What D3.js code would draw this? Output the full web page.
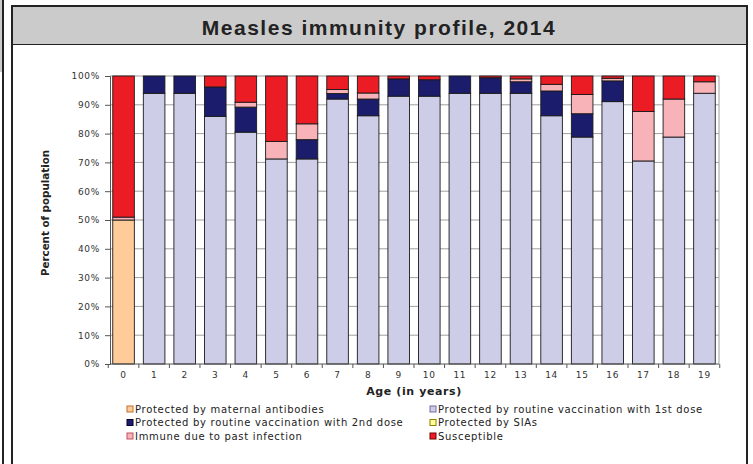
<!DOCTYPE html>
<html lang="en">
<head>
  <meta charset="UTF-8">
  <title>Measles immunity profile, 2014</title>
  <script src="https://d3js.org/d3.v7.min.js"></script>
  <style>
    body { margin: 0; background: #ffffff; overflow: hidden; }
    svg { display: block; }
    .tick-label { font: 9px "DejaVu Sans", Verdana, sans-serif; fill: #333; letter-spacing: 0.7px; }
    .legend text { font: 10px "DejaVu Sans", Verdana, sans-serif; fill: #222; letter-spacing: 0.7px; }
  </style>
</head>
<body>
<svg id="chart" width="753" height="464"></svg>
<script>
// ages on the x axis
const ages = ["0","1","2","3","4","5","6","7","8","9","10","11","12","13","14","15","16","17","18","19"];

// percent of population per age, one array per group (bottom to top)
const maternal  = [50, 0, 0, 0, 0, 0, 0, 0, 0, 0, 0, 0, 0, 0, 0, 0, 0, 0, 0, 0];
const dose1     = [0, 94, 94, 86, 80.5, 71.2, 71.2, 92, 86.2, 93, 93, 94, 94, 94, 86.2, 78.8, 91.1, 70.5, 78.8, 94];
const dose2     = [0, 6, 6, 10.2, 8.7, 0, 6.7, 1.9, 5.8, 6, 5.7, 6, 5.4, 4, 8.6, 8.1, 7.2, 0, 0, 0];
const sias      = [0, 0, 0, 0, 0, 0, 0, 0, 0, 0, 0, 0, 0, 0, 0, 0, 0, 0, 0, 0];
const infection = [1, 0, 0, 0, 1.7, 6.1, 5.5, 1.4, 2.1, 0, 0, 0, 0, 1, 2.3, 6.7, 0.9, 17.2, 13.2, 4];
const susceptible = [49, 0, 0, 3.8, 9.1, 22.7, 16.6, 4.7, 5.9, 1, 1.3, 0, 0.6, 1, 2.9, 6.4, 0.8, 12.3, 8, 2];

const yTicks = [0, 10, 20, 30, 40, 50, 60, 70, 80, 90, 100];

const seriesNames = [
  "Protected by maternal antibodies",
  "Protected by routine vaccination with 1st dose",
  "Protected by routine vaccination with 2nd dose",
  "Protected by SIAs",
  "Immune due to past infection",
  "Susceptible"
];
const keys = ["maternal", "dose1", "dose2", "sias", "infection", "susceptible"];
const colors = ["#ffcc99", "#cdcde8", "#1c1c6c", "#ffff99", "#f7b3b8", "#ec1c24"];
const legendStroke = ["#c07030", "#7070a0", "#000033", "#908000", "#c05060", "#700000"];

const rows = ages.map((a, i) => ({
  age: a,
  maternal: maternal[i], dose1: dose1[i], dose2: dose2[i],
  sias: sias[i], infection: infection[i], susceptible: susceptible[i]
}));

const svg = d3.select("#chart");

// ---- frame ----
// partial neighbouring panel on the left
svg.append("rect").attr("x", 0).attr("y", 0).attr("width", 2.5).attr("height", 72).attr("fill", "#cbcbcb");
svg.append("line").attr("x1", 3).attr("x2", 3).attr("y1", 0).attr("y2", 464)
   .attr("stroke", "#222").attr("stroke-width", 2);

// main panel
svg.append("rect").attr("x", 12).attr("y", 6).attr("width", 735).attr("height", 38.5).attr("fill", "#cbcbcb");
svg.append("path").attr("d", "M12,464 V6 H747 V464").attr("fill", "none")
   .attr("stroke", "#222").attr("stroke-width", 2);
svg.append("line").attr("x1", 12).attr("x2", 747).attr("y1", 44.5).attr("y2", 44.5)
   .attr("stroke", "#222").attr("stroke-width", 1.2);

svg.append("text").attr("x", 379).attr("y", 35).attr("text-anchor", "middle")
   .style("font", "bold 21px 'Liberation Sans', Arial, sans-serif")
   .style("letter-spacing", "1.5px")
   .attr("fill", "#222").text("Measles immunity profile, 2014");

// ---- plot ----
const plotL = 110, plotR = 718, plotT = 76, plotB = 364;

const x = d3.scaleBand().domain(ages).range([plotL, plotR]).paddingInner(0.294).paddingOuter(0.09);
const y = d3.scaleLinear().domain([0, 100]).range([plotB, plotT]);

// gridlines
svg.append("g").selectAll("line").data(yTicks.slice(1)).join("line")
   .attr("x1", plotL).attr("x2", plotR + 1)
   .attr("y1", d => y(d)).attr("y2", d => y(d))
   .attr("stroke", "#a0a0a0").attr("stroke-width", 1);
svg.append("line").attr("x1", plotR + 1).attr("x2", plotR + 1).attr("y1", plotT).attr("y2", plotB)
   .attr("stroke", "#a0a0a0");

// bars
const stacked = d3.stack().keys(keys)(rows);
svg.append("g").selectAll("g").data(stacked).join("g")
   .attr("fill", (d, i) => colors[i])
  .selectAll("rect").data(d => d.filter(s => s[1] - s[0] > 0)).join("rect")
   .attr("x", d => x(d.data.age))
   .attr("width", x.bandwidth())
   .attr("y", d => y(d[1]))
   .attr("height", d => y(d[0]) - y(d[1]))
   .attr("stroke", "#1a1a1a").attr("stroke-width", 0.9);

// y axis
const yAxis = svg.append("g").attr("transform", `translate(${plotL},0)`)
   .call(d3.axisLeft(y).tickValues(yTicks).tickFormat(d => d + "%").tickSize(5).tickPadding(5));
yAxis.attr("font-family", null).attr("font-size", null);
yAxis.select(".domain").attr("stroke", "#555");
yAxis.selectAll(".tick line").attr("stroke", "#555");
yAxis.selectAll("text").attr("class", "tick-label").attr("fill", "#333");

// x axis
const xAxisG = svg.append("g").attr("transform", `translate(0,${plotB})`);
xAxisG.append("line").attr("x1", plotL).attr("x2", plotR + 1).attr("y1", 0).attr("y2", 0).attr("stroke", "#555");
const step = x.step();
const edges = d3.range(ages.length + 1).map(i => i < ages.length ? x(ages[i]) - step * 0.147 : x(ages[i - 1]) + x.bandwidth() + step * 0.147);
xAxisG.selectAll("line.tk").data(edges).join("line").attr("class", "tk")
   .attr("x1", d => d).attr("x2", d => d).attr("y1", 0).attr("y2", 4).attr("stroke", "#555");
xAxisG.selectAll("text").data(ages).join("text").attr("class", "tick-label")
   .attr("x", d => x(d) + x.bandwidth() / 2).attr("y", 13.5).attr("text-anchor", "middle").text(d => d);

// axis titles
svg.append("text").attr("x", 414).attr("y", 395).attr("text-anchor", "middle")
   .style("font", "bold 11px 'DejaVu Sans', Verdana, sans-serif").style("letter-spacing", "0.6px")
   .attr("fill", "#222").text("Age (in years)");
svg.append("text").attr("transform", "translate(49,213) rotate(-90)").attr("text-anchor", "middle")
   .style("font", "bold 10.3px 'DejaVu Sans', Verdana, sans-serif").attr("fill", "#222").text("Percent of population");

// legend
const legendPos = [[130, 409], [433, 409], [130, 422.5], [433, 422.5], [130, 436], [433, 436]];
const lg = svg.append("g").attr("class", "legend").selectAll("g").data(seriesNames).join("g")
   .attr("transform", (d, i) => `translate(${legendPos[i][0]},${legendPos[i][1]})`);
lg.append("rect").attr("x", -3).attr("y", -3).attr("width", 6).attr("height", 6)
   .attr("fill", (d, i) => colors[i]).attr("stroke", (d, i) => legendStroke[i]).attr("stroke-width", 1);
lg.append("text").attr("x", 5).attr("y", 3.8).text(d => d);
</script>
</body>
</html>
